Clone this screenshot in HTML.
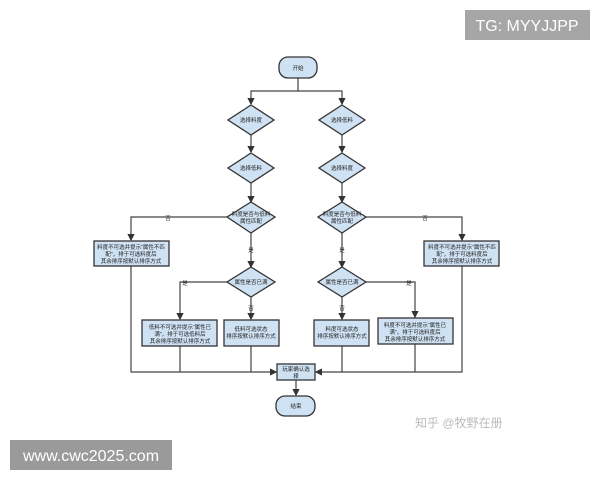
<!DOCTYPE html>
<html><head><meta charset="utf-8"><style>
html,body{margin:0;padding:0;background:#fff;width:600px;height:480px;overflow:hidden}
svg{position:absolute;left:0;top:0}
text{font-family:"Liberation Sans","Noto Sans CJK SC",sans-serif}
</style></head><body>
<svg width="600" height="480" viewBox="0 0 600 480">
<defs><marker id="a" markerWidth="6" markerHeight="6" refX="5" refY="3" orient="auto"><path d="M0,0 L6,3 L0,6 z" fill="#333"/></marker></defs>
<g stroke="#444" stroke-width="1.2" fill="none">
<path d="M298 78 V91 H251 V104" marker-end="url(#a)"/>
<path d="M298 91 H342 V104" marker-end="url(#a)"/>
<path d="M251 135 V152" marker-end="url(#a)"/>
<path d="M342 135 V152" marker-end="url(#a)"/>
<path d="M251 183 V202" marker-end="url(#a)"/>
<path d="M342 183 V202" marker-end="url(#a)"/>
<path d="M227 217 H131 V240" marker-end="url(#a)"/>
<path d="M366 217 H462 V240" marker-end="url(#a)"/>
<path d="M251 233 V267" marker-end="url(#a)"/>
<path d="M342 233 V267" marker-end="url(#a)"/>
<path d="M228 282 H180 V319" marker-end="url(#a)"/>
<path d="M365 282 H415 V317" marker-end="url(#a)"/>
<path d="M251 297 V319" marker-end="url(#a)"/>
<path d="M342 297 V319" marker-end="url(#a)"/>
<path d="M131 266 V372 H276" marker-end="url(#a)"/>
<path d="M462 266 V372 H316" marker-end="url(#a)"/>
<path d="M180 346 V372 M251 346 V372 M342 346 V372 M415 344 V372"/>
<path d="M296 380 V395" marker-end="url(#a)"/>
</g>
<g fill="#cfe2f3" stroke="#333" stroke-width="1.3">
<rect x="279" y="57" width="38" height="21" rx="9"/>
<rect x="276" y="396" width="39" height="20" rx="9"/>
<path d="M251 105 L274 120 L251 135 L228 120 z"/>
<path d="M342 105 L365 120 L342 135 L319 120 z"/>
<path d="M251 153 L274 168 L251 183 L228 168 z"/>
<path d="M342 153 L365 168 L342 183 L319 168 z"/>
<path d="M251 202 L275 217 L251 233 L227 217 z"/>
<path d="M342 202 L366 217 L342 233 L318 217 z"/>
<path d="M251 267 L275 282 L251 297 L227 282 z"/>
<path d="M342 267 L366 282 L342 297 L318 282 z"/>
<rect x="94" y="241" width="75" height="25"/>
<rect x="424" y="241" width="75" height="25"/>
<rect x="142" y="320" width="75" height="26"/>
<rect x="224" y="320" width="55" height="26"/>
<rect x="314" y="320" width="55" height="26"/>
<rect x="378" y="318" width="75" height="26"/>
<rect x="277" y="364" width="38" height="16"/>
</g>
<g font-size="5.5" fill="#222" text-anchor="middle">
<text x="298" y="70">开始</text>
<text x="296" y="408">结束</text>
<text x="251" y="122">选择料度</text>
<text x="342" y="122">选择低料</text>
<text x="251" y="170">选择低料</text>
<text x="342" y="170">选择料度</text>
<text x="251" y="216">料度是否与低料</text><text x="251" y="223">属性匹配</text>
<text x="342" y="216">料度是否与低料</text><text x="342" y="223">属性匹配</text>
<text x="251" y="284">属性是否已满</text>
<text x="342" y="284">属性是否已满</text>
<text x="131" y="249">料度不可选并提示“属性不匹</text><text x="131" y="256">配”，排于可选料度后</text><text x="131" y="263">其余排序按默认排序方式</text>
<text x="462" y="249">料度不可选并提示“属性不匹</text><text x="462" y="256">配”，排于可选料度后</text><text x="462" y="263">其余排序按默认排序方式</text>
<text x="180" y="329">低料不可选并提示“属性已</text><text x="180" y="336">满”，排于可选低料后</text><text x="180" y="343">其余排序按默认排序方式</text>
<text x="251" y="331">低料可选状态</text><text x="251" y="338">排序按默认排序方式</text>
<text x="342" y="331">料度可选状态</text><text x="342" y="338">排序按默认排序方式</text>
<text x="415" y="327">料度不可选并提示“属性已</text><text x="415" y="334">满”，排于可选料度后</text><text x="415" y="341">其余排序按默认排序方式</text>
<text x="296" y="371">玩家确认选</text><text x="296" y="378">择</text>
<text x="168" y="220">否</text><text x="425" y="220">否</text>
<text x="251" y="252">是</text><text x="342" y="252">是</text>
<text x="185" y="285">是</text><text x="409" y="285">是</text>
<text x="251" y="310">否</text><text x="342" y="310">否</text>
</g>
<text x="415" y="427" font-size="12" fill="#bbb">知乎 @牧野在册</text>
<rect x="465" y="10" width="125" height="30" fill="#a6a6a6"/>
<text x="527" y="31" font-size="16" fill="#fff" text-anchor="middle">TG: MYYJJPP</text>
<rect x="10" y="440" width="162" height="30" fill="#9a9a9a"/>
<text x="91" y="461" font-size="16" fill="#fff" text-anchor="middle">www.cwc2025.com</text>
</svg>
</body></html>
